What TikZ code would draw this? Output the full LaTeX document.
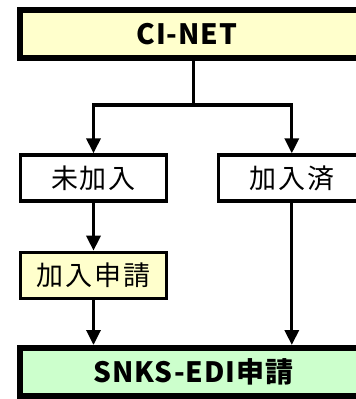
\documentclass[tikz,border=0pt]{standalone}
\usepackage{fontspec}
\setmainfont{Noto Sans CJK JP}[LetterSpace=7]
\newfontfamily\boxbold{Noto Sans CJK JP}[LetterSpace=3]
\usetikzlibrary{positioning, arrows.meta}
\definecolor{ciyellow}{HTML}{FFFFCC}
\definecolor{edigreen}{HTML}{CCFFCC}

\begin{document}
\begin{tikzpicture}[x=1pt,y=-1pt,->,>={Triangle[length=15pt,width=14pt]},line width=3.3pt,
    step box/.style={rectangle,draw,line width=3.3pt,minimum width=146pt,minimum height=46pt,inner sep=0pt,font=\fontsize{27}{30}\selectfont},
    wide box/.style={rectangle,draw,line width=6pt,minimum width=347pt,minimum height=48pt,inner sep=0pt,font=\boxbold\bfseries\fontsize{28}{30}\selectfont}]

\useasboundingbox (0,0) rectangle (356,399);
\clip (0,0) rectangle (356,399);

\node[wide box,fill=ciyellow]  (cinet)     at (193.5,34)          {CI-NET\hspace*{13pt}};
\node[step box]                (mikanyu)   at (93.5,178)          {未加入};
\node[step box]                (kanyuzumi) [right=49pt of mikanyu] {加入済};
\node[step box,fill=ciyellow]  (shinsei)   [below=48pt of mikanyu] {加入申請};
\node[wide box,fill=edigreen]  (edi)       at (193.5,372)         {SNKS-EDI申請};

\coordinate (split) at (193.5,105);

\draw[-] (cinet) -- (split);
\draw (split) -| (mikanyu);
\draw (split) -| (kanyuzumi);
\draw (mikanyu) -- (shinsei);
\draw (shinsei) -- (shinsei |- edi.north);
\draw (kanyuzumi) -- (kanyuzumi |- edi.north);
\end{tikzpicture}
\end{document}
